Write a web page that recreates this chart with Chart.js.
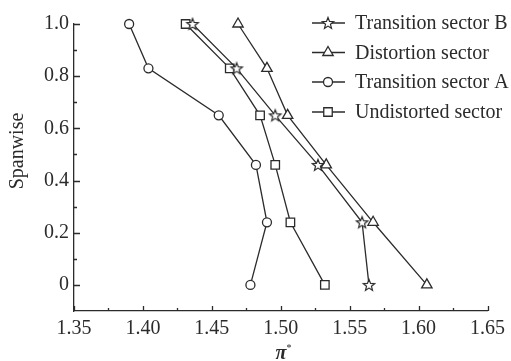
<!DOCTYPE html>
<html>
<head>
<meta charset="utf-8">
<script src="https://cdn.jsdelivr.net/npm/chart.js@4/dist/chart.umd.min.js"></script>
<style>
  html, body { margin: 0; padding: 0; background: #fff; }
  #wrap { width: 511px; height: 361px; }
</style>
</head>
<body>
<div id="wrap"><canvas id="c" width="511" height="361"></canvas></div>
<script>
// Spanwise stations and total pressure ratio for each sector
const spanwise     = [1.0, 0.83, 0.65, 0.46, 0.24, 0];
const transitionB  = [1.436, 1.468, 1.496, 1.527, 1.559, 1.564];
const distortion   = [1.469, 1.490, 1.505, 1.533, 1.567, 1.606];
const transitionA  = [1.390, 1.404, 1.455, 1.482, 1.490, 1.478];
const undistorted  = [1.431, 1.463, 1.485, 1.496, 1.507, 1.532];

const seriesNames  = ['Transition sector B', 'Distortion sector', 'Transition sector A', 'Undistorted sector'];
const xTickValues  = [1.35, 1.40, 1.45, 1.50, 1.55, 1.60, 1.65];
const xTickLabels  = ['1.35', '1.40', '1.45', '1.50', '1.55', '1.60', '1.65'];
const xMinorValues = [1.375, 1.425, 1.475, 1.525, 1.575, 1.625];
const yTickValues  = [0, 0.2, 0.4, 0.6, 0.8, 1.0];
const yTickLabels  = ['0', '0.2', '0.4', '0.6', '0.8', '1.0'];
const yMinorValues = [0.1, 0.3, 0.5, 0.7, 0.9];

const INK = '#2b2b2b';
const FONT = '"Liberation Serif", "Times New Roman", serif';

// Hollow five-pointed star used as a marker
function makeStar() {
  const s = 16, cv = document.createElement('canvas');
  cv.width = s; cv.height = s;
  const g = cv.getContext('2d');
  const cx = s / 2, cy = s / 2 + 0.5, R = 6, r = 2.6;
  g.beginPath();
  for (let i = 0; i < 10; i++) {
    const a = -Math.PI / 2 + i * Math.PI / 5;
    const rad = i % 2 === 0 ? R : r;
    const px = cx + rad * Math.cos(a), py = cy + rad * Math.sin(a);
    i === 0 ? g.moveTo(px, py) : g.lineTo(px, py);
  }
  g.closePath();
  g.fillStyle = '#fff'; g.fill();
  g.lineWidth = 1.2; g.strokeStyle = INK; g.stroke();
  return cv;
}
const starImg = makeStar();

const pts = xs => xs.map((x, i) => ({ x: x, y: spanwise[i] }));

function ds(label, xs, style, radius) {
  return {
    label: label, data: pts(xs), showLine: true,
    borderColor: INK, borderWidth: 1.3,
    pointStyle: style, pointRadius: radius, pointHoverRadius: radius,
    pointBackgroundColor: '#fff', pointBorderColor: INK, pointBorderWidth: 1.3,
    clip: false
  };
}

const datasets = [
  ds(seriesNames[0], transitionB, starImg, 6),
  ds(seriesNames[1], distortion, 'triangle', 6),
  ds(seriesNames[2], transitionA, 'circle', 4.5),
  ds(seriesNames[3], undistorted, 'rect', 6)
];

// Inward tick marks, axis titles and the in-plot legend
const decorations = {
  id: 'decorations',
  afterDraw(chart) {
    const ctx = chart.ctx, xs = chart.scales.x, ys = chart.scales.y;
    const a = chart.chartArea;
    ctx.save();
    ctx.strokeStyle = INK; ctx.lineWidth = 1.3;
    ctx.beginPath();
    xTickValues.forEach(v => { const p = Math.round(xs.getPixelForValue(v)) + 0.5; ctx.moveTo(p, a.bottom); ctx.lineTo(p, a.bottom - 5); });
    xMinorValues.forEach(v => { const p = Math.round(xs.getPixelForValue(v)) + 0.5; ctx.moveTo(p, a.bottom); ctx.lineTo(p, a.bottom - 3); });
    yTickValues.forEach(v => { const p = Math.round(ys.getPixelForValue(v)) + 0.5; ctx.moveTo(a.left, p); ctx.lineTo(a.left + 6, p); });
    yMinorValues.forEach(v => { const p = Math.round(ys.getPixelForValue(v)) + 0.5; ctx.moveTo(a.left, p); ctx.lineTo(a.left + 3, p); });
    ctx.stroke();

    // y-axis title
    ctx.fillStyle = INK;
    ctx.font = '20px ' + FONT;
    ctx.save();
    ctx.translate(23, 151);
    ctx.rotate(-Math.PI / 2);
    ctx.textAlign = 'center'; ctx.textBaseline = 'alphabetic';
    ctx.fillText('Spanwise', 0, 0);
    ctx.restore();

    // x-axis title
    ctx.textAlign = 'center'; ctx.textBaseline = 'alphabetic';
    ctx.font = 'italic bold 20px ' + FONT;
    ctx.fillText('π', 281, 359);
    ctx.font = '10px ' + FONT;
    ctx.fillText('*', 289, 351);

    // legend
    const lx0 = 312, lx1 = 345, mx = 328, tx = 355;
    const rows = [23, 52.5, 82, 112];
    ctx.font = '20px ' + FONT;
    ctx.textAlign = 'left'; ctx.textBaseline = 'middle';
    chart.data.datasets.forEach((d, i) => {
      const y = rows[i];
      ctx.strokeStyle = INK; ctx.lineWidth = 1.3;
      ctx.beginPath(); ctx.moveTo(lx0, y); ctx.lineTo(lx1, y); ctx.stroke();
      ctx.fillStyle = '#fff'; ctx.strokeStyle = INK; ctx.lineWidth = 1.3;
      Chart.helpers.drawPoint(ctx, { pointStyle: d.pointStyle, radius: d.pointRadius, rotation: 0, borderWidth: 1.3 }, mx, y);
      ctx.fillStyle = INK;
      ctx.fillText(d.label, tx, y + 1);
    });
    ctx.restore();
  }
};

new Chart(document.getElementById('c'), {
  type: 'scatter',
  data: { datasets: datasets },
  options: {
    responsive: false, animation: false,
    devicePixelRatio: 1,
    layout: { padding: { top: 24, right: 19, left: 0, bottom: 0 } },
    plugins: { legend: { display: false }, tooltip: { enabled: false } },
    scales: {
      x: {
        type: 'linear', min: 1.35, max: 1.65,
        afterBuildTicks: s => { s.ticks = xTickValues.map(v => ({ value: v })); },
        afterFit: s => { s.height = 50; },
        grid: { display: false, drawTicks: false },
        border: { display: true, color: INK, width: 1.3 },
        ticks: {
          padding: 6, color: INK, font: { family: FONT, size: 20 },
          callback: (v, i) => xTickLabels[i]
        }
      },
      y: {
        type: 'linear', min: -0.1, max: 1.0,
        afterBuildTicks: s => { s.ticks = yTickValues.map(v => ({ value: v })); },
        afterFit: s => { s.width = 74; },
        grid: { display: false, drawTicks: false },
        border: { display: true, color: INK, width: 1.3 },
        ticks: {
          padding: 5, color: INK, font: { family: FONT, size: 20 },
          callback: (v, i) => yTickLabels[i]
        }
      }
    }
  },
  plugins: [decorations]
});
</script>
</body>
</html>
